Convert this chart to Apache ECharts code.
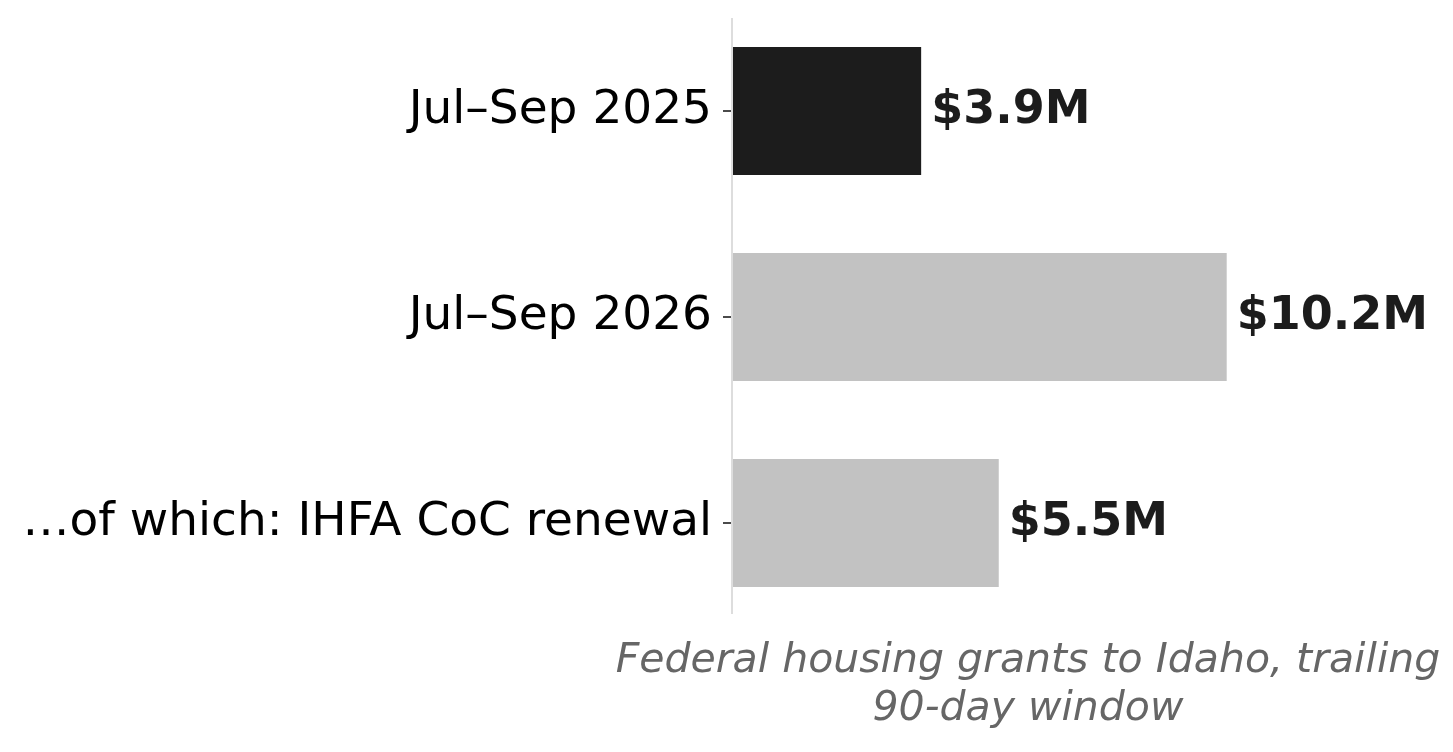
<!DOCTYPE html>
<html><head><meta charset="utf-8">
<script src="https://cdn.jsdelivr.net/npm/echarts@6/dist/echarts.min.js"></script>
<style>html,body{margin:0;padding:0;background:#fff}#c{width:1453px;height:752px}</style>
</head><body><div id="c"></div>
<script>
const categories = ["Jul–Sep 2025", "Jul–Sep 2026", "…of which: IHFA CoC renewal"];
const values = [3.9, 10.2, 5.5];
const valueLabels = ["$3.9M", "$10.2M", "$5.5M"];
const barColors = ["#1c1c1c", "#c2c2c2", "#c2c2c2"];
const xTitle = "Federal housing grants to Idaho, trailing\n90-day window";

const chart = echarts.init(document.getElementById('c'));
chart.setOption({
  animation: false,
  grid: {left: 732, top: 8, width: 679, height: 618},
  xAxis: {type: 'value', min: 0, max: 14, show: false},
  yAxis: {
    type: 'category', data: categories, inverse: true,
    axisLine: {show: false},
    axisTick: {show: true, alignWithLabel: true, length: 9, lineStyle: {color: '#111', width: 1.5}},
    axisLabel: {fontFamily: 'DejaVu Sans', fontSize: 47, color: '#000', margin: 20}
  },
  series: [{
    type: 'bar', barWidth: 128,
    data: values.map((v, i) => ({value: v, itemStyle: {color: barColors[i]}})),
    label: {show: true, position: 'right', distance: 10, fontFamily: 'DejaVu Sans', fontWeight: 'bold',
      fontSize: 46, color: '#1c1c1c', formatter: p => valueLabels[p.dataIndex]}
  }],
  graphic: [
    {type: 'line', shape: {x1: 732, y1: 18, x2: 732, y2: 614}, style: {stroke: '#dddddd', lineWidth: 2}, z: 10},
    {type: 'text', x: 1028, y: 637,
     style: {text: xTitle, fontFamily: 'DejaVu Sans', fontStyle: 'italic', fontSize: 41,
       fill: '#666', align: 'center', textAlign: 'center', lineHeight: 48}}
  ]
});
</script></body></html>
